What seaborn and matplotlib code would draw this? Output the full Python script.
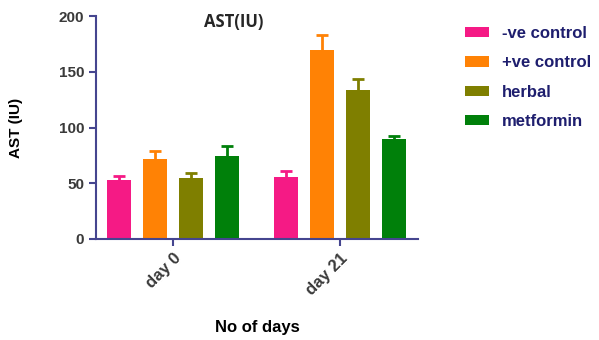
import matplotlib
matplotlib.use("Agg")
import matplotlib.pyplot as plt
import seaborn as sns
import pandas as pd
import numpy as np

days = ["day 0", "day 21"]
groups = ["-ve control", "+ve control", "herbal", "metformin"]
colors = ["#F51A85", "#FF8205", "#7F7F00", "#00800A"]
vals_day0 = [53.0, 71.7, 54.7, 74.4]
vals_day21 = [55.6, 169.5, 133.6, 89.7]
err_day0 = [3.5, 7.5, 4.5, 9.0]
err_day21 = [5.0, 13.5, 10.0, 2.7]

rows = []
for d, vals, errs in [(days[0], vals_day0, err_day0), (days[1], vals_day21, err_day21)]:
    for g, v, e in zip(groups, vals, errs):
        rows.append({"day": d, "group": g, "value": v, "err": e})
df = pd.DataFrame(rows)

sns.set_style("ticks")
plt.rcParams["font.family"] = ["Liberation Sans", "DejaVu Sans"]
axis_col = "#45458F"

fig = plt.figure(figsize=(5.99, 3.4), dpi=100)
ax = fig.add_axes([96/599, 1-239/340, (418-96)/599, (239-16)/340])

sns.barplot(data=df, x="day", y="value", hue="group", order=days, hue_order=groups,
            palette=colors, width=0.862, gap=0.33, errorbar=None, ax=ax,
            saturation=1, edgecolor="none")

# error bars (upper only), matched to bar patches
for cont, g, c in zip(ax.containers, groups, colors):
    sub = df[df.group == g].set_index("day").loc[days]
    errs = sub["err"].values
    for p, e in zip(cont.patches, errs):
        xc = p.get_x() + p.get_width()/2
        h = p.get_height()
        ax.vlines(xc, h, h + e, color=c, lw=2)
        ax.hlines(h + e, xc - 0.036, xc + 0.036, color=c, lw=2)

ax.set_ylim(0, 200)
ax.set_xlim(-0.461, 1.467)
ax.set_yticks([0, 50, 100, 150, 200])
for s in ["top", "right"]:
    ax.spines[s].set_visible(False)
for s in ["left", "bottom"]:
    ax.spines[s].set_color(axis_col)
    ax.spines[s].set_linewidth(1.5)
ax.tick_params(axis="both", colors=axis_col, width=1.5, length=5)
for lab in ax.get_yticklabels():
    lab.set_color("#3A3A3A"); lab.set_fontweight("bold"); lab.set_fontsize(11)
ax.set_xticks(range(len(days)))
ax.set_xticklabels(days, rotation=45, ha="right", rotation_mode="anchor",
                   color="#3A3A3A", fontweight="bold", fontsize=12)

ax.set_ylabel("AST (IU)", fontweight="bold", fontsize=11, color="black", labelpad=26)
ax.set_xlabel("No of days", fontweight="bold", fontsize=12, color="black", labelpad=16)

fig.text(234/599, 1-22/340, "AST(IU)", ha="center", va="center",
         fontweight="bold", fontsize=12, family=["Open Sans", "DejaVu Sans"])

leg = ax.legend(loc="upper left", bbox_to_anchor=(450/599, 1-11/340),
                bbox_transform=fig.transFigure, frameon=False,
                prop={"weight": "bold", "size": 12}, handlelength=1.45,
                handleheight=0.6, labelspacing=0.86, handletextpad=0.75)
for t in leg.get_texts():
    t.set_color("#1E1E6E")

fig.savefig("out.png", dpi=100)
